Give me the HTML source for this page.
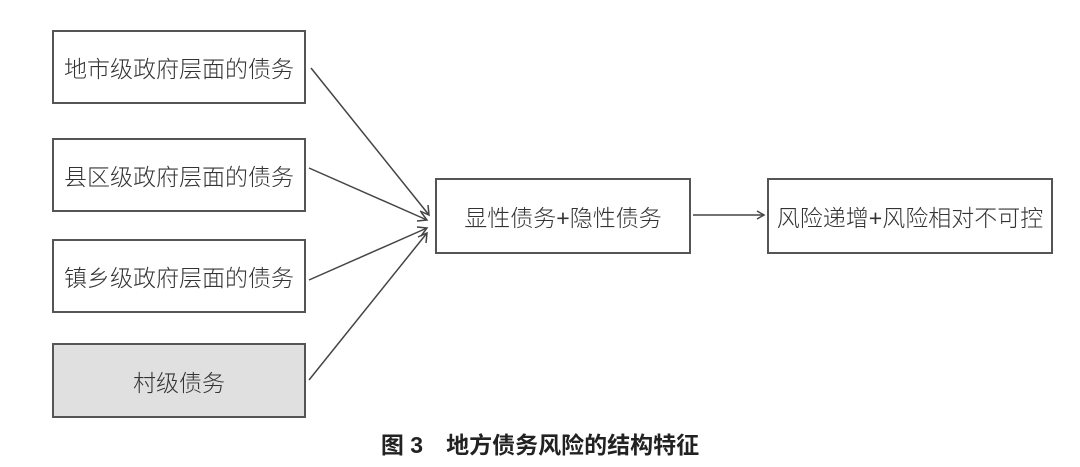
<!DOCTYPE html>
<html><head><meta charset="utf-8"><style>
body{margin:0;width:1080px;height:467px;background:#fff;position:relative;overflow:hidden;font-family:"Liberation Sans","Noto Sans CJK SC",sans-serif;}
.b{position:absolute;box-sizing:border-box;border:2px solid #555;display:flex;align-items:center;justify-content:center;font-size:23px;color:#333;font-weight:300;}
.cap{position:absolute;left:0;width:1080px;top:426px;text-align:center;font-size:23px;font-weight:bold;color:#222;}
svg{position:absolute;left:0;top:0}
</style></head><body>
<div class="b" style="left:52px;top:30px;width:254px;height:74px">地市级政府层面的债务</div>
<div class="b" style="left:52px;top:138px;width:254px;height:74px">县区级政府层面的债务</div>
<div class="b" style="left:52px;top:239px;width:254px;height:74px">镇乡级政府层面的债务</div>
<div class="b" style="left:52px;top:343px;width:254px;height:75px;background:#e0e0e0">村级债务</div>
<div class="b" style="left:435px;top:178px;width:256px;height:76px">显性债务+隐性债务</div>
<div class="b" style="left:767px;top:178px;width:286px;height:76px">风险递增+风险相对不可控</div>
<svg width="1080" height="467" stroke="#444" stroke-width="1.5" fill="none">
<line x1="311" y1="68" x2="429" y2="215"/><path d="M420 211 L429 215 L428 205"/>
<line x1="309" y1="168" x2="427" y2="220"/><path d="M417 221 L427 220 L421 212"/>
<line x1="309" y1="280" x2="427" y2="228"/><path d="M421 236 L427 228 L417 227"/>
<line x1="309" y1="380" x2="427" y2="233"/><path d="M426 243 L427 233 L418 237"/>
<line x1="693" y1="215" x2="764" y2="215"/><path d="M757 211 L764 215 L757 219"/>
</svg>
<div class="cap">图 3　地方债务风险的结构特征</div>
</body></html>
